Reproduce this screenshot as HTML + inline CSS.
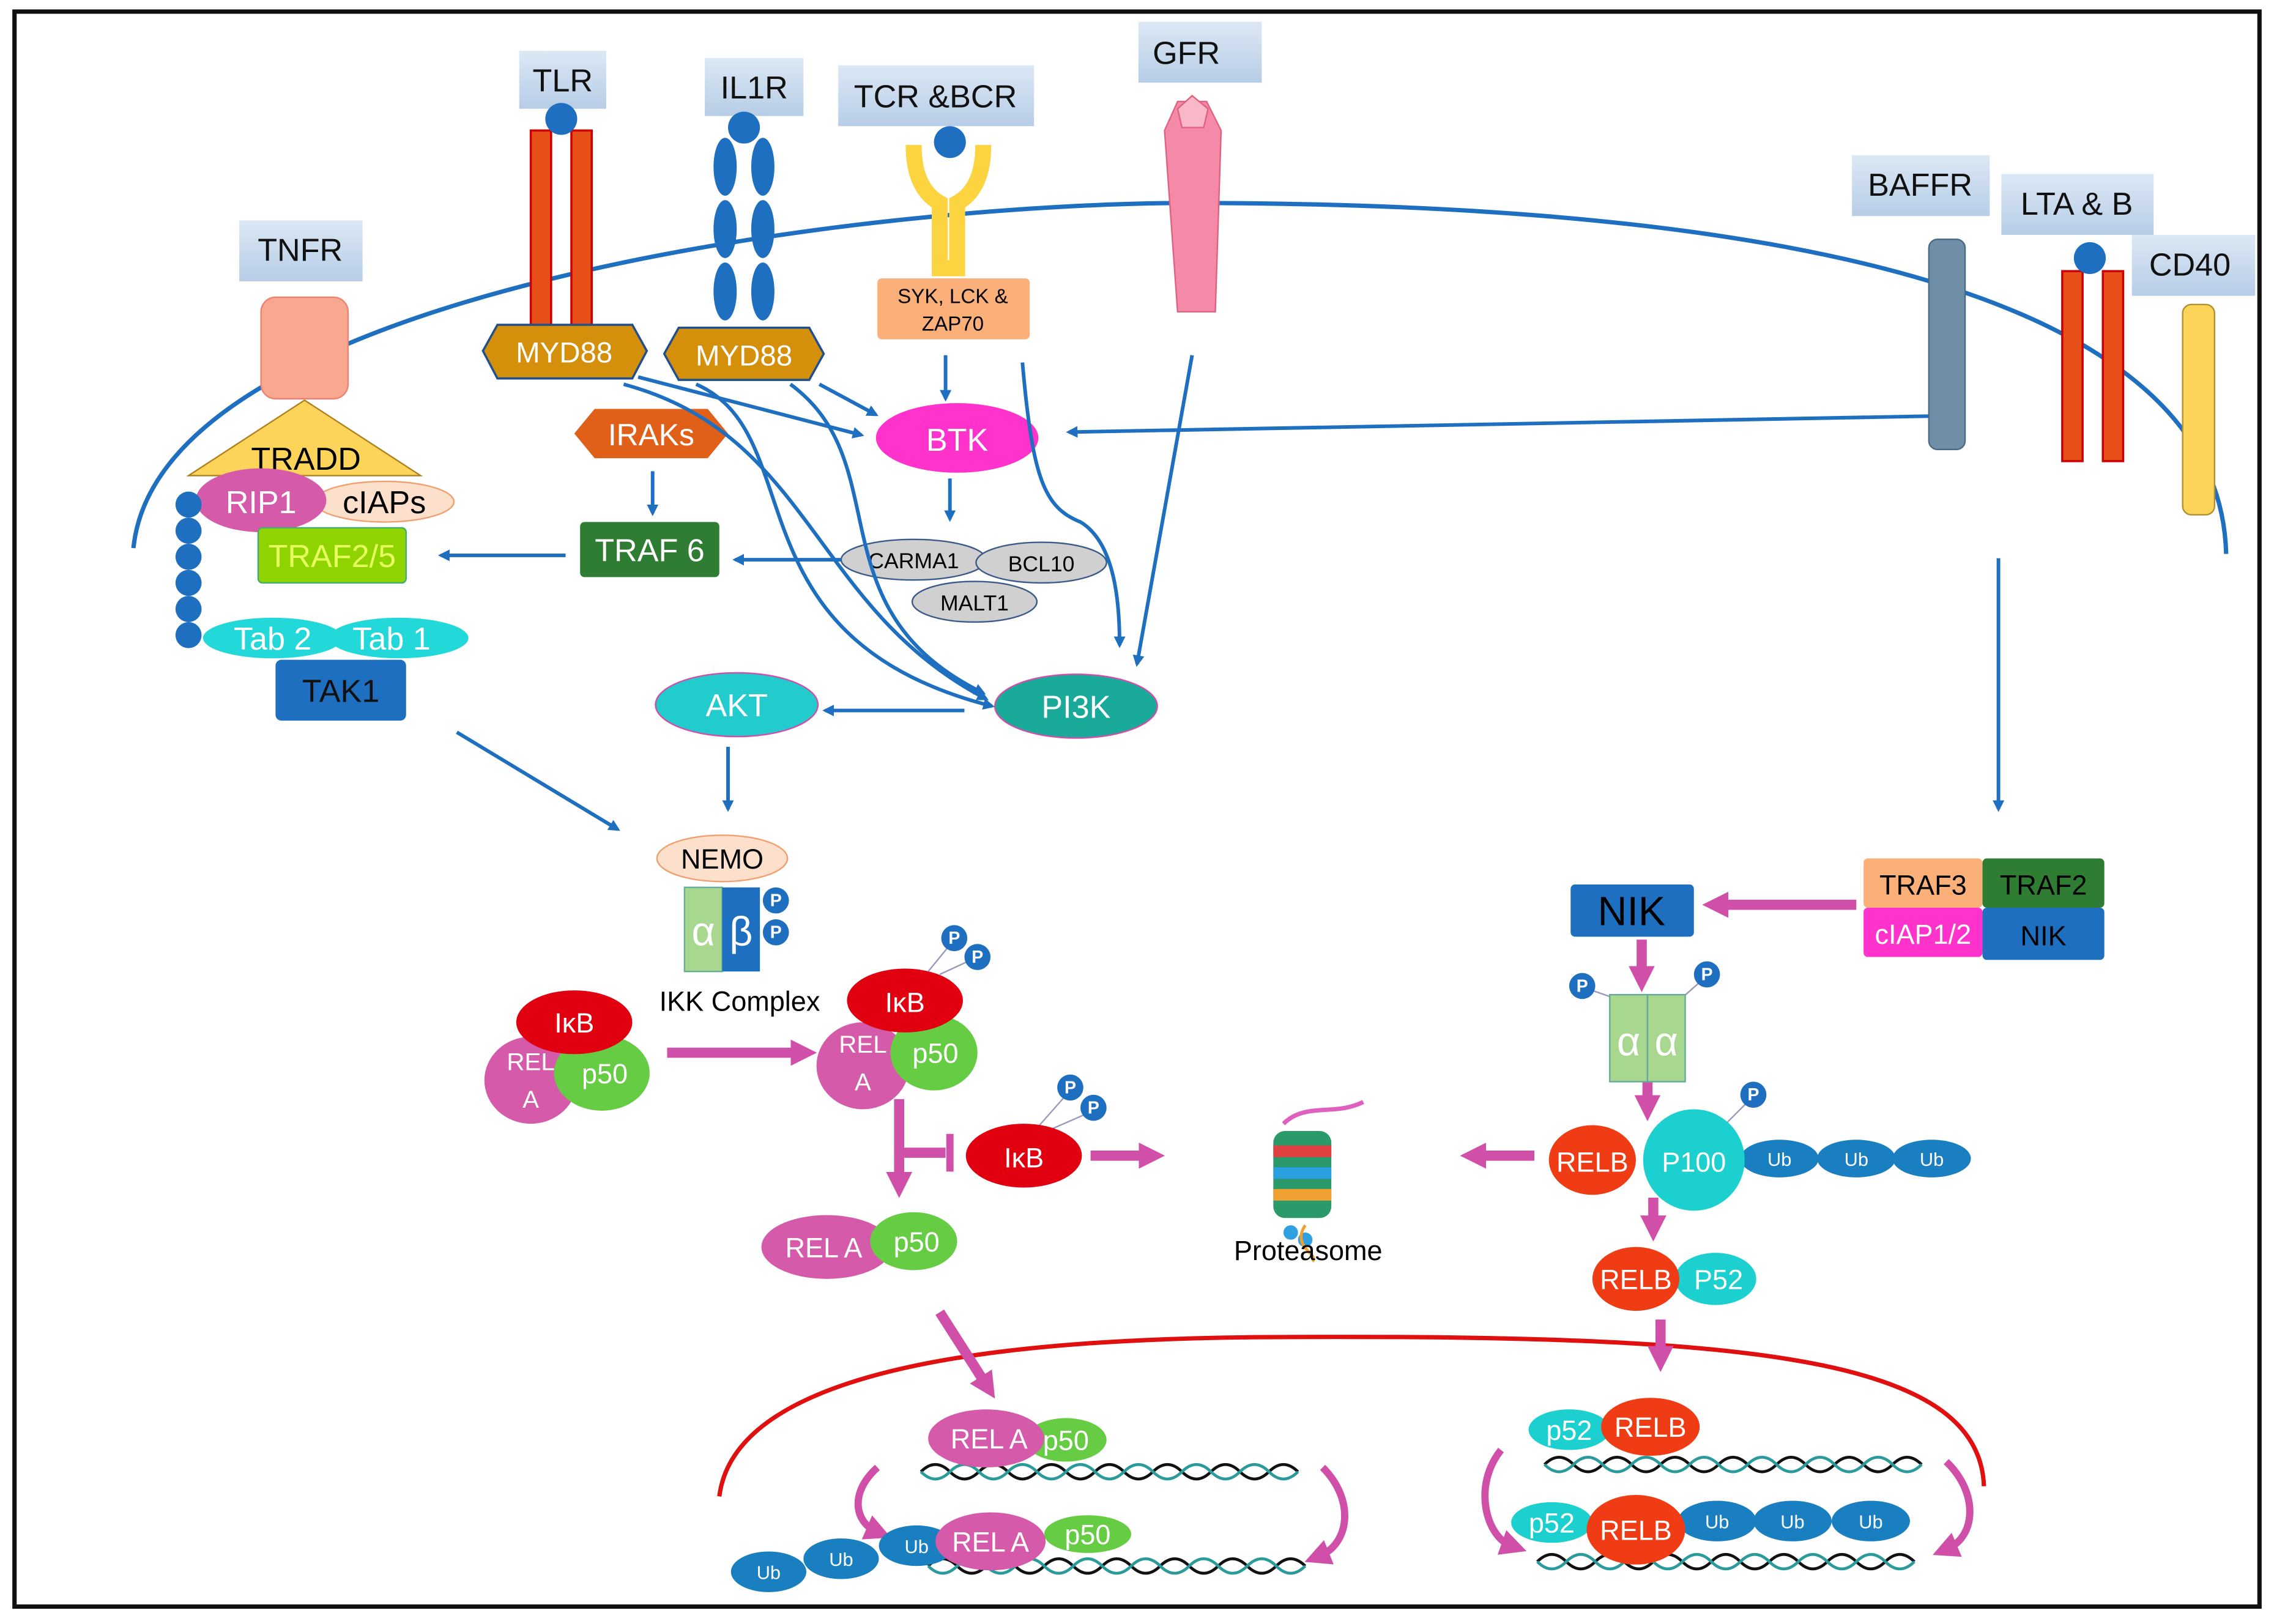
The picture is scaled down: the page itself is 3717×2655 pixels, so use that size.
<!DOCTYPE html>
<html><head><meta charset="utf-8"><style>
html,body{margin:0;padding:0;background:#fff;}
svg{display:block;}
text{font-family:"Liberation Sans",sans-serif;}
</style></head><body>
<svg width="3717" height="2655" viewBox="0 0 1568 1120" xmlns="http://www.w3.org/2000/svg">
<defs>
<linearGradient id="lb" x1="0" y1="0" x2="0" y2="1"><stop offset="0" stop-color="#dce8f5"/><stop offset="1" stop-color="#b7cde6"/></linearGradient>
<marker id="ab" markerWidth="8" markerHeight="8" refX="6" refY="4" orient="auto" markerUnits="userSpaceOnUse" viewBox="0 0 8 8"><path d="M0,0 L8,4 L0,8 z" fill="#1f6fc0"/></marker>
<marker id="ap" markerWidth="18" markerHeight="18" refX="3" refY="4" orient="auto" markerUnits="userSpaceOnUse" viewBox="0 0 8 8"><path d="M0,0 L8,4 L0,8 z" fill="#d04fa8"/></marker>
</defs>
<rect width="1568" height="1120" fill="#fff"/>
<rect x="10" y="8" width="1548" height="1100" fill="none" stroke="#111" stroke-width="3"/>

<path d="M92,378 C110,200 600,140 820,140 C1150,140 1530,180 1535,382" fill="none" stroke="#1f6fc0" stroke-width="3"/>
<path d="M496,1032 C510,920 800,922 930,922 C1220,922 1365,940 1368,1025" fill="none" stroke="#e01010" stroke-width="3"/>

<g font-size="22" text-anchor="middle" fill="#111">
<rect x="358" y="35" width="60" height="40" fill="url(#lb)"/><text x="388" y="63">TLR</text>
<rect x="486" y="40" width="68" height="40" fill="url(#lb)"/><text x="520" y="68">IL1R</text>
<rect x="578" y="45" width="135" height="42" fill="url(#lb)"/><text x="645" y="74">TCR &amp;BCR</text>
<rect x="785" y="15" width="85" height="42" fill="url(#lb)"/><text x="818" y="44">GFR</text>
<rect x="165" y="152" width="85" height="42" fill="url(#lb)"/><text x="207" y="180">TNFR</text>
<rect x="1277" y="107" width="95" height="42" fill="url(#lb)"/><text x="1324" y="135">BAFFR</text>
<rect x="1380" y="120" width="105" height="42" fill="url(#lb)"/><text x="1432" y="148">LTA &amp; B</text>
<rect x="1470" y="162" width="85" height="42" fill="url(#lb)"/><text x="1510" y="190">CD40</text>
</g>

<rect x="366" y="90" width="14" height="135" fill="#e8501a" stroke="#c00" stroke-width="1.5"/>
<rect x="394" y="90" width="14" height="135" fill="#e8501a" stroke="#c00" stroke-width="1.5"/>
<circle cx="387" cy="82" r="11" fill="#1f6fc0"/>
<polygon points="333,242 343,224 436,224 446,242 436,261 343,261" fill="#d4900a" stroke="#1f4f8f" stroke-width="1.5"/>
<text x="389" y="250" font-size="20" fill="#fff" text-anchor="middle">MYD88</text>
<g fill="#1f6fc0">
<ellipse cx="500" cy="115" rx="8" ry="20"/><ellipse cx="500" cy="158" rx="8" ry="20"/><ellipse cx="500" cy="201" rx="8" ry="20"/>
<ellipse cx="526" cy="115" rx="8" ry="20"/><ellipse cx="526" cy="158" rx="8" ry="20"/><ellipse cx="526" cy="201" rx="8" ry="20"/>
<circle cx="513" cy="88" r="11"/></g>
<polygon points="458,244 468,226 558,226 568,244 558,262 468,262" fill="#d4900a" stroke="#1f4f8f" stroke-width="1.5"/>
<text x="513" y="252" font-size="20" fill="#fff" text-anchor="middle">MYD88</text>
<path d="M630,100 Q630,130 648,140 L648,185 L660,185 L660,140 Q678,130 678,100" fill="none" stroke="#fcd440" stroke-width="11"/>
<circle cx="655" cy="98" r="11" fill="#1f6fc0"/>
<rect x="605" y="192" width="105" height="42" rx="3" fill="#fbb07a"/>
<text x="657" y="209" font-size="14" text-anchor="middle">SYK, LCK  &amp;</text><text x="657" y="228" font-size="14" text-anchor="middle">ZAP70</text>
<polygon points="803,90 812,70 832,70 842,90 838,215 812,215" fill="#f58aa8" stroke="#e06080"/>
<polygon points="812,75 822,66 833,75 830,88 815,88" fill="#f9b8c8" stroke="#e06080"/>
<rect x="180" y="205" width="60" height="70" rx="10" fill="#f9a890" stroke="#f08070"/>
<polygon points="130,328 290,328 210,276" fill="#fcd45a" stroke="#b08020"/>
<text x="211" y="324" font-size="22" text-anchor="middle">TRADD</text>
<ellipse cx="265" cy="346" rx="48" ry="14" fill="#fde0cc" stroke="#f0a070"/>
<text x="265" y="354" font-size="22" text-anchor="middle">cIAPs</text>
<ellipse cx="180" cy="345" rx="45" ry="22" fill="#d65aaa"/>
<text x="180" y="354" font-size="22" fill="#fff" text-anchor="middle">RIP1</text>
<rect x="178" y="364" width="102" height="38" rx="3" fill="#8fd400" stroke="#4a7"/>
<text x="229" y="391" font-size="22" fill="#e8ff60" text-anchor="middle">TRAF2/5</text>
<g fill="#1f6fc0"><circle cx="130" cy="348" r="9"/><circle cx="130" cy="366" r="9"/><circle cx="130" cy="384" r="9"/><circle cx="130" cy="402" r="9"/><circle cx="130" cy="420" r="9"/><circle cx="130" cy="438" r="9"/></g>
<ellipse cx="188" cy="440" rx="48" ry="14" fill="#22d8d8"/><text x="188" y="448" font-size="22" fill="#fff" text-anchor="middle">Tab 2</text>
<ellipse cx="275" cy="440" rx="48" ry="14" fill="#22d8d8"/><text x="270" y="448" font-size="22" fill="#fff" text-anchor="middle">Tab 1</text>
<rect x="190" y="455" width="90" height="42" rx="4" fill="#1f6fc0"/><text x="235" y="484" font-size="22" fill="#111" text-anchor="middle">TAK1</text>
<polygon points="396,299 410,282 488,282 502,299 488,316 410,316" fill="#e0601a"/>
<text x="449" y="307" font-size="21" fill="#fff" text-anchor="middle">IRAKs</text>
<rect x="400" y="360" width="96" height="38" rx="3" fill="#2e7d32"/><text x="448" y="387" font-size="22" fill="#fff" text-anchor="middle">TRAF 6</text>
<ellipse cx="660" cy="302" rx="56" ry="24" fill="#ff33cc"/><text x="660" y="311" font-size="22" fill="#fff" text-anchor="middle">BTK</text>
<g stroke="#3a5a8a" stroke-width="1" fill="#d0d0d0">
<ellipse cx="630" cy="386" rx="50" ry="14"/><ellipse cx="718" cy="388" rx="45" ry="14"/><ellipse cx="672" cy="415" rx="43" ry="14"/></g>
<g font-size="15" text-anchor="middle"><text x="630" y="392">CARMA1</text><text x="718" y="394">BCL10</text><text x="672" y="421">MALT1</text></g>
<ellipse cx="508" cy="486" rx="56" ry="22" fill="#22cccc" stroke="#d04fa8"/><text x="508" y="494" font-size="22" fill="#fff" text-anchor="middle">AKT</text>
<ellipse cx="742" cy="487" rx="56" ry="22" fill="#1aaa9a" stroke="#d04fa8"/><text x="742" y="495" font-size="22" fill="#fff" text-anchor="middle">PI3K</text>

<g stroke="#1f6fc0" stroke-width="2.5" fill="none" marker-end="url(#ab)">
<line x1="652" y1="245" x2="652" y2="275"/>
<line x1="565" y1="265" x2="604" y2="286"/>
<line x1="440" y1="260" x2="594" y2="300"/>
<line x1="450" y1="325" x2="450" y2="354"/>
<line x1="390" y1="383" x2="304" y2="383"/>
<line x1="580" y1="386" x2="507" y2="386"/>
<line x1="655" y1="330" x2="655" y2="358"/>
<path d="M430,265 C560,300 560,420 680,482"/>
<path d="M480,265 C560,300 500,440 684,487"/>
<path d="M545,265 C620,320 560,420 678,478"/>
<path d="M705,250 C712,330 720,350 745,360 C770,375 772,420 772,445"/>
<line x1="822" y1="245" x2="784" y2="458"/>
<line x1="665" y1="490" x2="569" y2="490"/>
<line x1="502" y1="515" x2="502" y2="558"/>
<line x1="315" y1="505" x2="426" y2="572"/>
<line x1="1330" y1="287" x2="737" y2="298"/>
<line x1="1378" y1="385" x2="1378" y2="558"/>
</g>

<ellipse cx="498" cy="592" rx="45" ry="16" fill="#fde0cc" stroke="#f0a070"/><text x="498" y="599" font-size="19" text-anchor="middle">NEMO</text>
<rect x="472" y="612" width="26" height="58" fill="#a8d890" stroke="#6a9"/><rect x="498" y="612" width="26" height="58" fill="#1f6fc0"/>
<text x="485" y="652" font-size="28" fill="#fff" text-anchor="middle">α</text><text x="511" y="652" font-size="28" fill="#fff" text-anchor="middle">β</text>
<g fill="#1f6fc0"><circle cx="535" cy="621" r="9"/><circle cx="535" cy="643" r="9"/></g>
<g font-size="12" fill="#fff" text-anchor="middle" font-weight="bold"><text x="535" y="625">P</text><text x="535" y="647">P</text></g>
<text x="510" y="697" font-size="19" text-anchor="middle">IKK Complex</text>

<ellipse cx="366" cy="745" rx="32" ry="30" fill="#d65aaa"/>
<ellipse cx="415" cy="740" rx="33" ry="26" fill="#66cc44"/>
<ellipse cx="396" cy="705" rx="40" ry="22" fill="#e00010"/>
<text x="396" y="712" font-size="19" fill="#fff" text-anchor="middle">IκB</text>
<text x="366" y="738" font-size="17" fill="#fff" text-anchor="middle">REL</text><text x="366" y="764" font-size="17" fill="#fff" text-anchor="middle">A</text>
<text x="417" y="747" font-size="19" fill="#fff" text-anchor="middle">p50</text>
<line x1="460" y1="726" x2="552" y2="726" stroke="#d04fa8" stroke-width="7" marker-end="url(#ap)"/>
<ellipse cx="595" cy="735" rx="32" ry="30" fill="#d65aaa"/>
<ellipse cx="644" cy="726" rx="30" ry="26" fill="#66cc44"/>
<ellipse cx="624" cy="690" rx="40" ry="22" fill="#e00010"/>
<text x="624" y="698" font-size="19" fill="#fff" text-anchor="middle">IκB</text>
<text x="595" y="726" font-size="17" fill="#fff" text-anchor="middle">REL</text><text x="595" y="752" font-size="17" fill="#fff" text-anchor="middle">A</text>
<text x="645" y="733" font-size="19" fill="#fff" text-anchor="middle">p50</text>
<g stroke="#99b" stroke-width="1"><line x1="640" y1="670" x2="658" y2="648"/><line x1="648" y1="672" x2="674" y2="660"/><line x1="715" y1="778" x2="738" y2="752"/><line x1="722" y1="780" x2="754" y2="766"/><line x1="1112" y1="688" x2="1092" y2="681"/><line x1="1160" y1="688" x2="1177" y2="673"/><line x1="1190" y1="775" x2="1209" y2="756"/></g>
<g fill="#1f6fc0"><circle cx="658" cy="647" r="9"/><circle cx="674" cy="660" r="9"/><circle cx="738" cy="750" r="9"/><circle cx="754" cy="764" r="9"/><circle cx="1091" cy="680" r="9"/><circle cx="1177" cy="672" r="9"/><circle cx="1209" cy="755" r="9"/></g>
<g font-size="12" fill="#fff" text-anchor="middle" font-weight="bold"><text x="658" y="651">P</text><text x="674" y="664">P</text><text x="738" y="754">P</text><text x="754" y="768">P</text><text x="1091" y="684">P</text><text x="1177" y="676">P</text><text x="1209" y="759">P</text></g>
<g stroke="#d04fa8" stroke-width="7" fill="none">
<line x1="620" y1="758" x2="620" y2="815" marker-end="url(#ap)"/>
<line x1="620" y1="795" x2="652" y2="795"/><line x1="655" y1="782" x2="655" y2="808" stroke-width="5"/>
<line x1="752" y1="797" x2="792" y2="797" marker-end="url(#ap)"/>
<line x1="648" y1="905" x2="680" y2="955" marker-end="url(#ap)"/>
<line x1="1058" y1="797" x2="1018" y2="797" marker-end="url(#ap)"/>
<line x1="1280" y1="624" x2="1185" y2="624" marker-end="url(#ap)"/>
<line x1="1132" y1="648" x2="1132" y2="673" marker-end="url(#ap)"/>
<line x1="1136" y1="746" x2="1136" y2="762" marker-end="url(#ap)"/>
<line x1="1140" y1="826" x2="1140" y2="845" marker-end="url(#ap)"/>
<line x1="1145" y1="910" x2="1145" y2="935" marker-end="url(#ap)"/>
<path d="M605,1012 C585,1030 590,1050 604,1056" stroke-width="5" marker-end="url(#ap)"/>
<path d="M912,1012 C935,1035 930,1065 910,1073" stroke-width="5" marker-end="url(#ap)"/>
<path d="M1035,1000 C1015,1025 1025,1060 1042,1066" stroke-width="5" marker-end="url(#ap)"/>
<path d="M1342,1008 C1365,1030 1362,1060 1343,1068" stroke-width="5" marker-end="url(#ap)"/>
</g>
<ellipse cx="706" cy="797" rx="40" ry="22" fill="#e00010"/><text x="706" y="805" font-size="19" fill="#fff" text-anchor="middle">IκB</text>
<ellipse cx="570" cy="860" rx="45" ry="22" fill="#d65aaa"/><ellipse cx="630" cy="856" rx="30" ry="20" fill="#66cc44"/>
<text x="568" y="867" font-size="19" fill="#fff" text-anchor="middle">REL A</text><text x="632" y="863" font-size="19" fill="#fff" text-anchor="middle">p50</text>

<g>
<rect x="878" y="780" width="40" height="60" rx="8" fill="#2a9a6a"/>
<rect x="878" y="790" width="40" height="8" fill="#e04040"/><rect x="878" y="805" width="40" height="8" fill="#2aa0e0"/><rect x="878" y="820" width="40" height="8" fill="#f0a030"/>
<circle cx="890" cy="850" r="5" fill="#30a0e0"/><circle cx="900" cy="855" r="5" fill="#30a0e0"/>
<path d="M885,775 C900,760 920,770 940,760" stroke="#e060c0" stroke-width="3" fill="none"/>
<path d="M900,845 C890,860 910,865 905,870" stroke="#f0a030" stroke-width="2" fill="none"/>
</g>
<text x="902" y="869" font-size="19" text-anchor="middle">Proteasome</text>

<g fill="none" stroke-width="2">
<path d="M635,1015 q10,-10 20,0 t20,0 t20,0 t20,0 t20,0 t20,0 t20,0 t20,0 t20,0 t20,0 t20,0 t20,0 t20,0" stroke="#111"/>
<path d="M635,1015 q10,10 20,0 t20,0 t20,0 t20,0 t20,0 t20,0 t20,0 t20,0 t20,0 t20,0 t20,0 t20,0 t20,0" stroke="#2a9a9a"/>
<path d="M640,1080 q10,-10 20,0 t20,0 t20,0 t20,0 t20,0 t20,0 t20,0 t20,0 t20,0 t20,0 t20,0 t20,0 t20,0" stroke="#111"/>
<path d="M640,1080 q10,10 20,0 t20,0 t20,0 t20,0 t20,0 t20,0 t20,0 t20,0 t20,0 t20,0 t20,0 t20,0 t20,0" stroke="#2a9a9a"/>
<path d="M1065,1010 q10,-10 20,0 t20,0 t20,0 t20,0 t20,0 t20,0 t20,0 t20,0 t20,0 t20,0 t20,0 t20,0 t20,0" stroke="#111"/>
<path d="M1065,1010 q10,10 20,0 t20,0 t20,0 t20,0 t20,0 t20,0 t20,0 t20,0 t20,0 t20,0 t20,0 t20,0 t20,0" stroke="#2a9a9a"/>
<path d="M1060,1077 q10,-10 20,0 t20,0 t20,0 t20,0 t20,0 t20,0 t20,0 t20,0 t20,0 t20,0 t20,0 t20,0 t20,0" stroke="#111"/>
<path d="M1060,1077 q10,10 20,0 t20,0 t20,0 t20,0 t20,0 t20,0 t20,0 t20,0 t20,0 t20,0 t20,0 t20,0 t20,0" stroke="#2a9a9a"/>
</g>
<ellipse cx="735" cy="993" rx="28" ry="15" fill="#66cc44"/><ellipse cx="680" cy="992" rx="40" ry="20" fill="#d65aaa"/>
<text x="682" y="999" font-size="19" fill="#fff" text-anchor="middle">REL A</text><text x="735" y="1000" font-size="19" fill="#fff" text-anchor="middle">p50</text>
<g fill="#1a7fc0"><ellipse cx="530" cy="1084" rx="26" ry="14"/><ellipse cx="580" cy="1075" rx="26" ry="14"/><ellipse cx="632" cy="1066" rx="26" ry="14"/></g>
<ellipse cx="750" cy="1058" rx="30" ry="13" fill="#66cc44"/><ellipse cx="683" cy="1063" rx="38" ry="20" fill="#d65aaa"/>
<g font-size="13" fill="#fff" text-anchor="middle"><text x="530" y="1089">Ub</text><text x="580" y="1080">Ub</text><text x="632" y="1071">Ub</text></g>
<text x="683" y="1070" font-size="19" fill="#fff" text-anchor="middle">REL A</text><text x="750" y="1065" font-size="19" fill="#fff" text-anchor="middle">p50</text>

<rect x="1330" y="165" width="25" height="145" rx="6" fill="#6f8fa8" stroke="#4a6a88"/>
<rect x="1422" y="187" width="14" height="131" fill="#e8501a" stroke="#c00" stroke-width="1.5"/>
<rect x="1450" y="187" width="14" height="131" fill="#e8501a" stroke="#c00" stroke-width="1.5"/>
<circle cx="1441" cy="178" r="11" fill="#1f6fc0"/>
<rect x="1505" y="210" width="22" height="145" rx="6" fill="#fcd45a" stroke="#b09030"/>

<rect x="1285" y="592" width="82" height="34" rx="3" fill="#fbb07a"/><text x="1326" y="617" font-size="19" text-anchor="middle">TRAF3</text>
<rect x="1367" y="592" width="84" height="34" rx="3" fill="#2e7d32"/><text x="1409" y="617" font-size="19" text-anchor="middle">TRAF2</text>
<rect x="1285" y="626" width="82" height="34" rx="3" fill="#ff33cc"/><text x="1326" y="651" font-size="19" fill="#fff" text-anchor="middle">cIAP1/2</text>
<rect x="1367" y="626" width="84" height="36" rx="3" fill="#1f6fc0"/><text x="1409" y="652" font-size="19" text-anchor="middle">NIK</text>
<rect x="1083" y="610" width="85" height="36" rx="3" fill="#1f6fc0"/><text x="1125" y="638" font-size="28" text-anchor="middle">NIK</text>
<rect x="1110" y="686" width="26" height="60" fill="#a8d890" stroke="#6a9"/><rect x="1136" y="686" width="26" height="60" fill="#a8d890" stroke="#6a9"/>
<text x="1123" y="728" font-size="28" fill="#fff" text-anchor="middle">α</text><text x="1149" y="728" font-size="28" fill="#fff" text-anchor="middle">α</text>
<g fill="#1a7fc0"><ellipse cx="1227" cy="799" rx="27" ry="13"/><ellipse cx="1280" cy="799" rx="27" ry="13"/><ellipse cx="1332" cy="799" rx="27" ry="13"/></g>
<g font-size="13" fill="#fff" text-anchor="middle"><text x="1227" y="804">Ub</text><text x="1280" y="804">Ub</text><text x="1332" y="804">Ub</text></g>
<circle cx="1168" cy="800" r="35" fill="#1cd0d0"/><text x="1168" y="808" font-size="19" fill="#fff" text-anchor="middle">P100</text>
<ellipse cx="1098" cy="800" rx="30" ry="24" fill="#f03c14"/><text x="1098" y="808" font-size="19" fill="#fff" text-anchor="middle">RELB</text>
<ellipse cx="1183" cy="882" rx="28" ry="18" fill="#1cd0d0"/><text x="1185" y="889" font-size="19" fill="#fff" text-anchor="middle">P52</text>
<ellipse cx="1128" cy="882" rx="30" ry="22" fill="#f03c14"/><text x="1128" y="889" font-size="19" fill="#fff" text-anchor="middle">RELB</text>
<ellipse cx="1082" cy="986" rx="28" ry="14" fill="#1cd0d0"/><text x="1082" y="993" font-size="19" fill="#fff" text-anchor="middle">p52</text>
<ellipse cx="1138" cy="984" rx="34" ry="20" fill="#f03c14"/><text x="1138" y="991" font-size="19" fill="#fff" text-anchor="middle">RELB</text>
<g fill="#1a7fc0"><ellipse cx="1184" cy="1049" rx="27" ry="14"/><ellipse cx="1236" cy="1049" rx="27" ry="14"/><ellipse cx="1290" cy="1049" rx="27" ry="14"/></g>
<g font-size="13" fill="#fff" text-anchor="middle"><text x="1184" y="1054">Ub</text><text x="1236" y="1054">Ub</text><text x="1290" y="1054">Ub</text></g>
<ellipse cx="1070" cy="1050" rx="28" ry="14" fill="#1cd0d0"/><text x="1070" y="1057" font-size="19" fill="#fff" text-anchor="middle">p52</text>
<ellipse cx="1128" cy="1055" rx="34" ry="24" fill="#f03c14"/><text x="1128" y="1062" font-size="19" fill="#fff" text-anchor="middle">RELB</text>
</svg>
</body></html>
